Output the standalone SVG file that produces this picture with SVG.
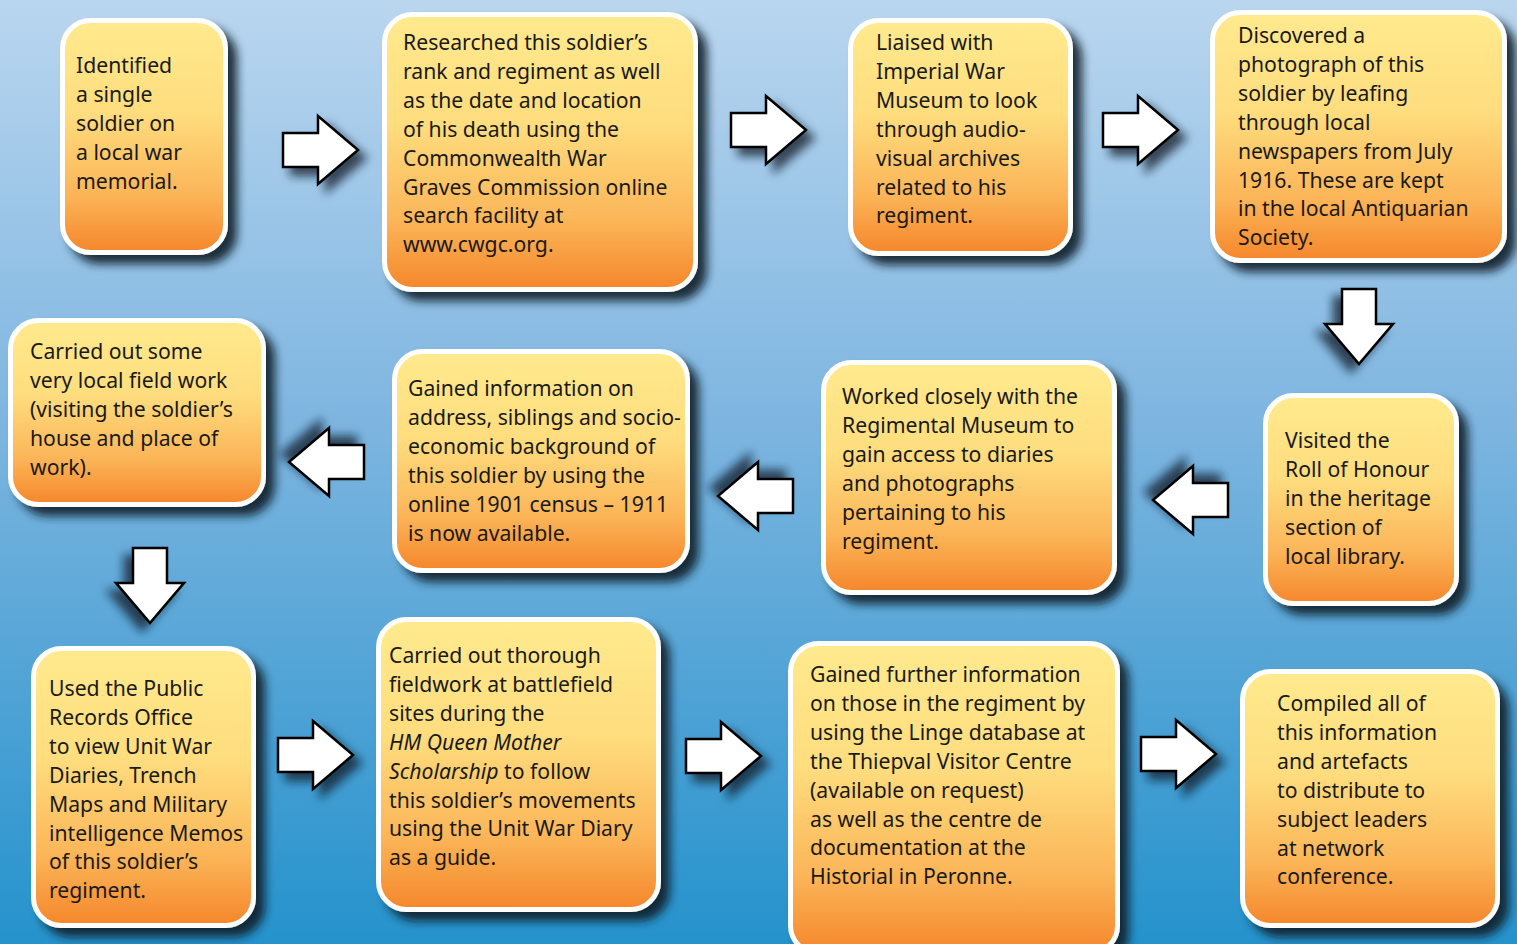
<svg xmlns="http://www.w3.org/2000/svg" width="1517" height="944" viewBox="0 0 1517 944">
<defs>
<linearGradient id="bg" x1="0" y1="0" x2="0" y2="1">
<stop offset="0" stop-color="#bad6ef"/>
<stop offset="0.45" stop-color="#7db5e0"/>
<stop offset="1" stop-color="#2592cc"/>
</linearGradient>
<linearGradient id="box" x1="0" y1="0" x2="0" y2="1">
<stop offset="0" stop-color="#ffea8e"/>
<stop offset="0.4" stop-color="#fedd7e"/>
<stop offset="0.75" stop-color="#fbb558"/>
<stop offset="1" stop-color="#f5862b"/>
</linearGradient>
<filter id="sh" x="-20%" y="-20%" width="140%" height="140%">
<feDropShadow dx="9" dy="9" stdDeviation="5" flood-color="#0b1a26" flood-opacity="0.9"/>
</filter>
<filter id="ash" x="-30%" y="-30%" width="160%" height="160%">
<feDropShadow dx="8" dy="8" stdDeviation="5" flood-color="#0b1a26" flood-opacity="0.75"/>
</filter>
<path id="ar" d="M0,-17 L35,-17 L35,-34 L75,0 L35,34 L35,17 L0,17 Z"/>
</defs>
<style>
.b{fill:url(#box);stroke:#fff;stroke-width:5;filter:url(#sh)}
.t{font-family:"Noto Sans","Open Sans",sans-serif;font-size:21.2px;fill:#1a1a1a}
.a{fill:#fff;stroke:#000;stroke-width:2.5;stroke-linejoin:miter;filter:url(#ash)}
</style>
<rect width="1517" height="944" fill="url(#bg)"/>
<g id="connectors">
<use href="#ar" class="a" transform="translate(283,150)"/>
<use href="#ar" class="a" transform="translate(731,130)"/>
<use href="#ar" class="a" transform="translate(1103,130)"/>
<use href="#ar" class="a" transform="translate(1359,289) rotate(90)"/>
<use href="#ar" class="a" transform="translate(364,462) rotate(180)"/>
<use href="#ar" class="a" transform="translate(793,496) rotate(180)"/>
<use href="#ar" class="a" transform="translate(1228,500) rotate(180)"/>
<use href="#ar" class="a" transform="translate(150,548) rotate(90)"/>
<use href="#ar" class="a" transform="translate(278,755)"/>
<use href="#ar" class="a" transform="translate(686,756)"/>
<use href="#ar" class="a" transform="translate(1141,754)"/>
</g>
<g id="n1"><rect class="b" x="62.5" y="20.5" width="163" height="232" rx="28"/>
<text class="t" x="76" y="73"><tspan x="76">Identified</tspan><tspan x="76" dy="29">a single</tspan><tspan x="76" dy="29">soldier on</tspan><tspan x="76" dy="29">a local war</tspan><tspan x="76" dy="29">memorial.</tspan></text></g>
<g id="n2"><rect class="b" x="384.5" y="14.5" width="311" height="275" rx="28"/>
<text class="t" x="403" y="50"><tspan x="403">Researched this soldier’s</tspan><tspan x="403" dy="28.9">rank and regiment as well</tspan><tspan x="403" dy="28.9">as the date and location</tspan><tspan x="403" dy="28.9">of his death using the</tspan><tspan x="403" dy="28.9">Commonwealth War</tspan><tspan x="403" dy="28.9">Graves Commission online</tspan><tspan x="403" dy="28.9">search facility at</tspan><tspan x="403" dy="28.9">www.cwgc.org.</tspan></text></g>
<g id="n3"><rect class="b" x="850.5" y="20.5" width="220" height="233" rx="28"/>
<text class="t" x="876" y="50"><tspan x="876">Liaised with</tspan><tspan x="876" dy="28.9">Imperial War</tspan><tspan x="876" dy="28.9">Museum to look</tspan><tspan x="876" dy="28.9">through audio-</tspan><tspan x="876" dy="28.9">visual archives</tspan><tspan x="876" dy="28.9">related to his</tspan><tspan x="876" dy="28.9">regiment.</tspan></text></g>
<g id="n4"><rect class="b" x="1212.5" y="12.5" width="292" height="248" rx="28"/>
<text class="t" x="1238" y="43"><tspan x="1238">Discovered a</tspan><tspan x="1238" dy="28.9">photograph of this</tspan><tspan x="1238" dy="28.9">soldier by leafing</tspan><tspan x="1238" dy="28.9">through local</tspan><tspan x="1238" dy="28.9">newspapers from July</tspan><tspan x="1238" dy="28.9">1916. These are kept</tspan><tspan x="1238" dy="28.9">in the local Antiquarian</tspan><tspan x="1238" dy="28.9">Society.</tspan></text></g>
<g id="n5"><rect class="b" x="10.5" y="320.5" width="253" height="184" rx="28"/>
<text class="t" x="30" y="359"><tspan x="30">Carried out some</tspan><tspan x="30" dy="28.9">very local field work</tspan><tspan x="30" dy="28.9">(visiting the soldier’s</tspan><tspan x="30" dy="28.9">house and place of</tspan><tspan x="30" dy="28.9">work).</tspan></text></g>
<g id="n6"><rect class="b" x="394.5" y="351.5" width="293" height="219" rx="28"/>
<text class="t" x="408" y="396"><tspan x="408">Gained information on</tspan><tspan x="408" dy="28.9">address, siblings and socio-</tspan><tspan x="408" dy="28.9">economic background of</tspan><tspan x="408" dy="28.9">this soldier by using the</tspan><tspan x="408" dy="28.9">online 1901 census – 1911</tspan><tspan x="408" dy="28.9">is now available.</tspan></text></g>
<g id="n7"><rect class="b" x="823.5" y="362.5" width="291" height="230" rx="28"/>
<text class="t" x="842" y="404"><tspan x="842">Worked closely with the</tspan><tspan x="842" dy="28.9">Regimental Museum to</tspan><tspan x="842" dy="28.9">gain access to diaries</tspan><tspan x="842" dy="28.9">and photographs</tspan><tspan x="842" dy="28.9">pertaining to his</tspan><tspan x="842" dy="28.9">regiment.</tspan></text></g>
<g id="n8"><rect class="b" x="1265.5" y="395.5" width="191" height="208" rx="28"/>
<text class="t" x="1285" y="448"><tspan x="1285">Visited the</tspan><tspan x="1285" dy="28.9">Roll of Honour</tspan><tspan x="1285" dy="28.9">in the heritage</tspan><tspan x="1285" dy="28.9">section of</tspan><tspan x="1285" dy="28.9">local library.</tspan></text></g>
<g id="n9"><rect class="b" x="33.5" y="648.5" width="220" height="277" rx="28"/>
<text class="t" x="49" y="696"><tspan x="49">Used the Public</tspan><tspan x="49" dy="28.9">Records Office</tspan><tspan x="49" dy="28.9">to view Unit War</tspan><tspan x="49" dy="28.9">Diaries, Trench</tspan><tspan x="49" dy="28.9">Maps and Military</tspan><tspan x="49" dy="28.9">intelligence Memos</tspan><tspan x="49" dy="28.9">of this soldier’s</tspan><tspan x="49" dy="28.9">regiment.</tspan></text></g>
<g id="n10"><rect class="b" x="378.5" y="619.5" width="280" height="290" rx="28"/>
<text class="t" x="389" y="663"><tspan x="389">Carried out thorough</tspan><tspan x="389" dy="28.9">fieldwork at battlefield</tspan><tspan x="389" dy="28.9">sites during the</tspan><tspan x="389" dy="28.9" font-style="italic">HM Queen Mother</tspan><tspan x="389" dy="28.9" font-style="italic">Scholarship</tspan><tspan> to follow</tspan><tspan x="389" dy="28.9">this soldier’s movements</tspan><tspan x="389" dy="28.9">using the Unit War Diary</tspan><tspan x="389" dy="28.9">as a guide.</tspan></text></g>
<g id="n11"><rect class="b" x="790.5" y="643.5" width="327" height="310" rx="28"/>
<text class="t" x="810" y="682"><tspan x="810">Gained further information</tspan><tspan x="810" dy="28.9">on those in the regiment by</tspan><tspan x="810" dy="28.9">using the Linge database at</tspan><tspan x="810" dy="28.9">the Thiepval Visitor Centre</tspan><tspan x="810" dy="28.9">(available on request)</tspan><tspan x="810" dy="28.9">as well as the centre de</tspan><tspan x="810" dy="28.9">documentation at the</tspan><tspan x="810" dy="28.9">Historial in Peronne.</tspan></text></g>
<g id="n12"><rect class="b" x="1242.5" y="671.5" width="255" height="254" rx="28"/>
<text class="t" x="1277" y="711"><tspan x="1277">Compiled all of</tspan><tspan x="1277" dy="28.9">this information</tspan><tspan x="1277" dy="28.9">and artefacts</tspan><tspan x="1277" dy="28.9">to distribute to</tspan><tspan x="1277" dy="28.9">subject leaders</tspan><tspan x="1277" dy="28.9">at network</tspan><tspan x="1277" dy="28.9">conference.</tspan></text></g>
</svg>
